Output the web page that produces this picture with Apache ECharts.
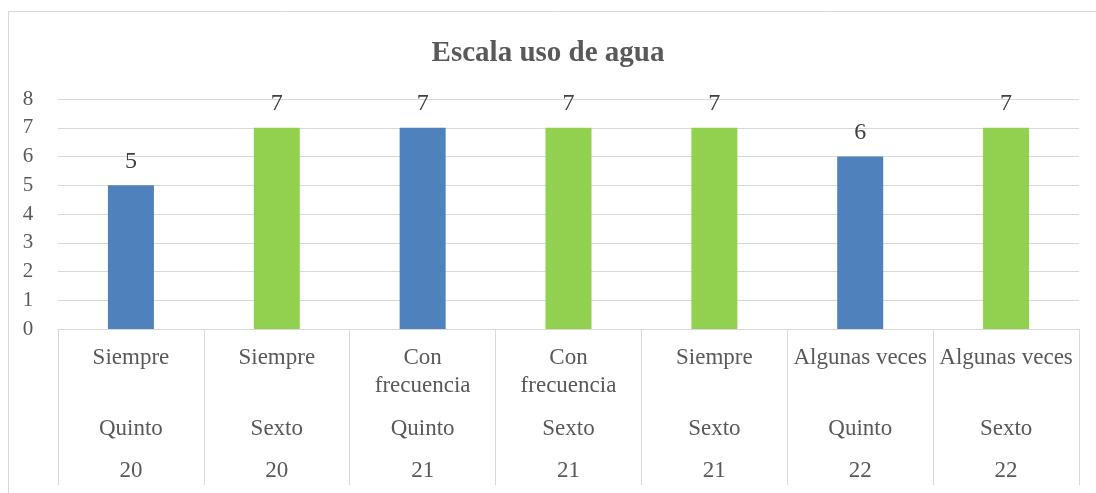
<!DOCTYPE html>
<html>
<head>
<meta charset="utf-8">
<script src="https://cdn.jsdelivr.net/npm/echarts@6/dist/echarts.min.js"></script>
<style>
  html, body { margin: 0; padding: 0; background: #fff; }
  #chart { width: 1096px; height: 493px; }
</style>
</head>
<body>
<div id="chart"></div>
<script>
// datos del gráfico
let respuestas = ['Siempre', 'Siempre', 'Con\nfrecuencia', 'Con\nfrecuencia', 'Siempre', 'Algunas veces', 'Algunas veces']
let grados = ['Quinto', 'Sexto', 'Quinto', 'Sexto', 'Sexto', 'Quinto', 'Sexto']
let edades = ['20', '20', '21', '21', '21', '22', '22']
let valores = [5, 7, 7, 7, 7, 6, 7]
let yTicks = [0, 1, 2, 3, 4, 5, 6, 7, 8]

let colores = { Quinto: '#4f81bd', Sexto: '#92d050' }
let fuente = '"Liberation Serif", "Times New Roman", serif'
let gris = '#595959'
let lineaGris = '#d9d9d9'

let chart = echarts.init(document.getElementById('chart'))

// eje de categorías con etiquetas en una fila
let filaEje = (datos, margen, extra) => Object.assign({
    type: 'category',
    data: datos,
    position: 'bottom',
    gridIndex: 0,
    axisLine: { show: false },
    axisTick: { show: false },
    axisLabel: {
        interval: 0,
        margin: margen,
        fontFamily: fuente,
        fontSize: 23,
        lineHeight: 28,
        color: gris
    }
}, extra || {})

chart.setOption({
    animation: false,
    title: {
        text: 'Escala uso de agua',
        left: 'center',
        top: 34,
        textStyle: {
            fontFamily: fuente,
            fontSize: 29,
            fontWeight: 'bold',
            color: gris
        }
    },
    grid: { left: 58, right: 17, top: 99, bottom: 164 },
    xAxis: [
        filaEje(respuestas, 15, {
            axisLine: { show: true, lineStyle: { color: lineaGris, width: 1 } },
            axisTick: { show: true, interval: 0, length: 156, lineStyle: { color: lineaGris, width: 1 } }
        }),
        filaEje(grados, 86),
        filaEje(edades, 128)
    ],
    yAxis: {
        type: 'value',
        min: yTicks[0],
        max: yTicks[yTicks.length - 1],
        interval: 1,
        axisLine: { show: false },
        axisTick: { show: false },
        axisLabel: {
            margin: 30,
            fontFamily: fuente,
            fontSize: 21,
            color: gris,
            align: 'center'
        },
        splitLine: { lineStyle: { color: lineaGris, width: 1 } }
    },
    graphic: [
        { type: 'line', shape: { x1: 8.5, y1: 11.5, x2: 1096, y2: 11.5 }, style: { stroke: lineaGris, lineWidth: 1 } },
        { type: 'line', shape: { x1: 8.5, y1: 11.5, x2: 8.5, y2: 493 }, style: { stroke: lineaGris, lineWidth: 1 } }
    ],
    series: [{
        type: 'bar',
        xAxisIndex: 0,
        barWidth: 46,
        data: valores.map((v, i) => ({ value: v, itemStyle: { color: colores[grados[i]] } })),
        label: {
            show: true,
            position: 'top',
            distance: 12,
            fontFamily: fuente,
            fontSize: 24,
            color: '#404040'
        }
    }]
})
</script>
</body>
</html>
